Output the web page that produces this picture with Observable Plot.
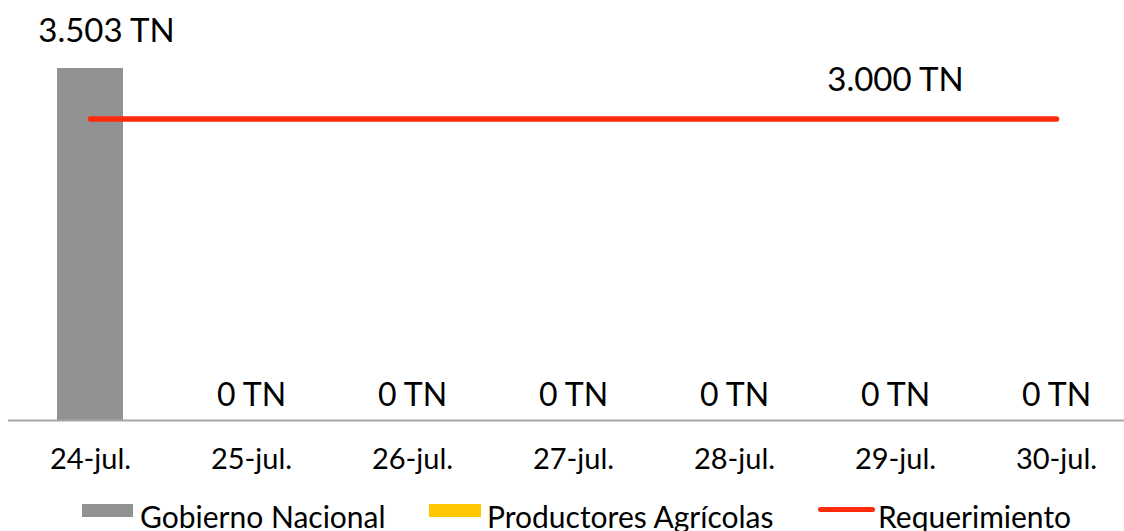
<!DOCTYPE html>
<html><head><meta charset="utf-8">
<script src="https://cdn.jsdelivr.net/npm/d3@7"></script>
<script src="https://cdn.jsdelivr.net/npm/@observablehq/plot@0.6"></script>
<style>
body{margin:0;background:#fff;font-family:Lato,sans-serif;}
#wrap{position:relative;width:1124px;height:531px;overflow:hidden;background:#fff;}
#chart{position:absolute;left:0;top:0;}
.sw{position:absolute;}
.lt{position:absolute;font-size:30px;line-height:30px;color:#000;white-space:nowrap;}
</style></head><body>
<div id="wrap"><div id="chart"></div><div id="legend"></div></div>
<script>
const categories = ["24-jul.","25-jul.","26-jul.","27-jul.","28-jul.","29-jul.","30-jul."];
const gobiernoNacional = [3503,0,0,0,0,0,0];
const productoresAgricolas = [0,0,0,0,0,0,0];
const requerimiento = [3000,3000,3000,3000,3000,3000,3000];
const seriesNames = ["Gobierno Nacional","Productores Agrícolas","Requerimiento"];
const seriesColors = ["#929292","#ffc800","#ff2a0a"];
const requerimientoLabelAt = "29-jul.";
const unit = " TN";

const fmt = d3.formatLocale({decimal:",",thousands:".",grouping:[3],currency:["",""]}).format(",");

const barData = [];
categories.forEach((c,i)=>{
  barData.push({date:c, series:seriesNames[0], value:gobiernoNacional[i]});
  barData.push({date:c, series:seriesNames[1], value:productoresAgricolas[i]});
});
const totals = categories.map((c,i)=>({date:c, total:gobiernoNacional[i]+productoresAgricolas[i]}));
const reqData = categories.map((c,i)=>({date:c, value:requerimiento[i]}));

const W = 1124, H = 480;
const step = (1137.3 - 8) / categories.length;

const chart = Plot.plot({
  width: W, height: H,
  marginLeft: 8, marginRight: 0, marginTop: 68, marginBottom: 60,
  style: {fontFamily: "Lato, sans-serif", background: "#fff", color: "#000"},
  x: {type:"band", domain: categories, range:[8, 1137.3], paddingInner:0.59, paddingOuter:0.295, align:0.5, label:null},
  y: {domain:[0, d3.max(totals, d=>d.total)], axis:null},
  color: {domain: seriesNames, range: seriesColors},
  marks: [
    Plot.barY(barData, {x:"date", y:"value", fill:"series"}),
    Plot.ruleY([0], {stroke:"#a6a6a6", strokeWidth:2}),
    Plot.lineY(reqData, {x:"date", y:"value", stroke: seriesColors[2], strokeWidth:5.5, strokeLinecap:"round"}),
    Plot.text(totals.filter(d=>d.total>0), {x:"date", y:"total", text:d=>fmt(d.total)+unit, fontSize:33, dy:-37, dx:16, fill:"#000"}),
    Plot.text(totals.filter(d=>d.total===0), {x:"date", y:"total", text:d=>fmt(d.total)+unit, fontSize:32, dy:-25, fill:"#000"}),
    Plot.text(reqData.filter(d=>d.date===requerimientoLabelAt), {x:"date", y:"value", text:d=>fmt(d.value)+unit, fontSize:33, dy:-39, fill:"#000"}),
    Plot.axisX({tickSize:0, tickPadding:28, fontSize:29, label:null, fill:"#000"})
  ]
});
document.getElementById("chart").appendChild(chart);

const legend = document.getElementById("legend");
const items = [
  {name: seriesNames[0], color: seriesColors[0], kind:"rect", sx:82, sw:51, tx:140},
  {name: seriesNames[1], color: seriesColors[1], kind:"rect", sx:429, sw:52, tx:487},
  {name: seriesNames[2], color: seriesColors[2], kind:"line", sx:818, sw:57, tx:878}
];
items.forEach(it=>{
  const s = document.createElement("div");
  s.className = "sw";
  s.style.left = it.sx+"px";
  s.style.width = it.sw+"px";
  s.style.background = it.color;
  if (it.kind==="rect"){ s.style.top="504px"; s.style.height="13px"; }
  else { s.style.top="507px"; s.style.height="5px"; s.style.borderRadius="3px"; }
  legend.appendChild(s);
  const t = document.createElement("div");
  t.className = "lt";
  t.style.left = it.tx+"px";
  t.style.top = "501px";
  t.textContent = it.name;
  legend.appendChild(t);
});
</script>
</body></html>
